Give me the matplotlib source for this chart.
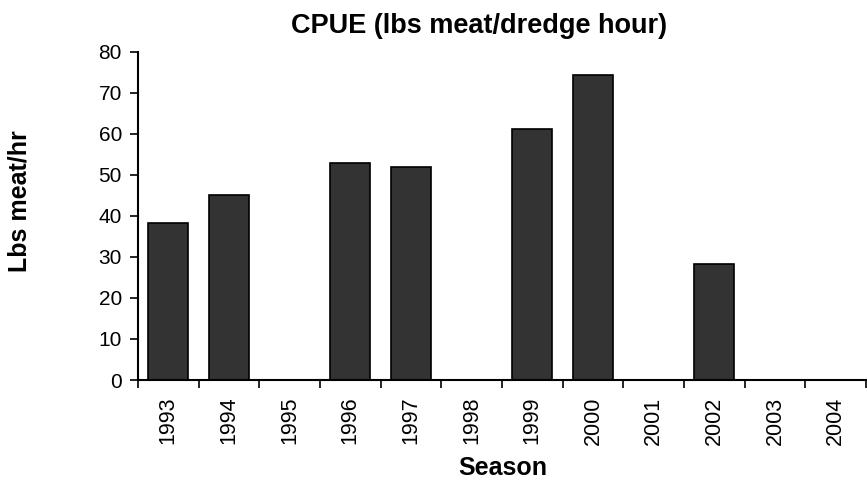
import numpy as np
import matplotlib.pyplot as plt

plt.rcParams['font.family'] = ['Liberation Sans', 'DejaVu Sans']

seasons = ["1993", "1994", "1995", "1996", "1997", "1998",
           "1999", "2000", "2001", "2002", "2003", "2004"]
cpue = [38.2, 45.1, 0, 52.8, 51.8, 0, 61.2, 74.4, 0, 28.2, 0, 0]

fig = plt.figure(figsize=(8.67, 4.82), dpi=100)
ax = fig.add_axes([0.159, 0.2116, 0.84, 0.681])

x = np.arange(len(seasons))
ax.bar(x, cpue, width=0.66, color="#333333", edgecolor="black", linewidth=1.2)

ax.set_xlim(-0.5, len(seasons) - 0.5)
ax.set_ylim(0, 80)
ax.set_yticks(np.arange(0, 81, 10))
ax.tick_params(axis='y', labelsize=15, direction='out', length=5.5, width=1.2, pad=6)

# ticks between categories, labels at centres
ax.set_xticks(np.arange(-0.5, len(seasons) + 0.5, 1))
ax.set_xticklabels([])
ax.set_xticks(x, minor=True)
ax.set_xticklabels(seasons, minor=True, rotation=90, fontsize=15.5)
ax.tick_params(axis='x', which='major', direction='out', length=6, width=1.2)
ax.tick_params(axis='x', which='minor', length=0, pad=12)

for s in ['top', 'right']:
    ax.spines[s].set_visible(False)
ax.spines['left'].set_linewidth(1.5)
ax.spines['bottom'].set_linewidth(1.5)

fig.text(0.552, 0.946, "CPUE (lbs meat/dredge hour)", ha='center', va='center',
         fontsize=19.5, fontweight='bold')
fig.text(0.58, 0.029, "Season", ha='center', va='center', fontsize=18, fontweight='bold')
fig.text(0.022, 0.583, "Lbs meat/hr", ha='center', va='center', rotation=90,
         fontsize=18, fontweight='bold')

fig.savefig("out.png", dpi=100)
